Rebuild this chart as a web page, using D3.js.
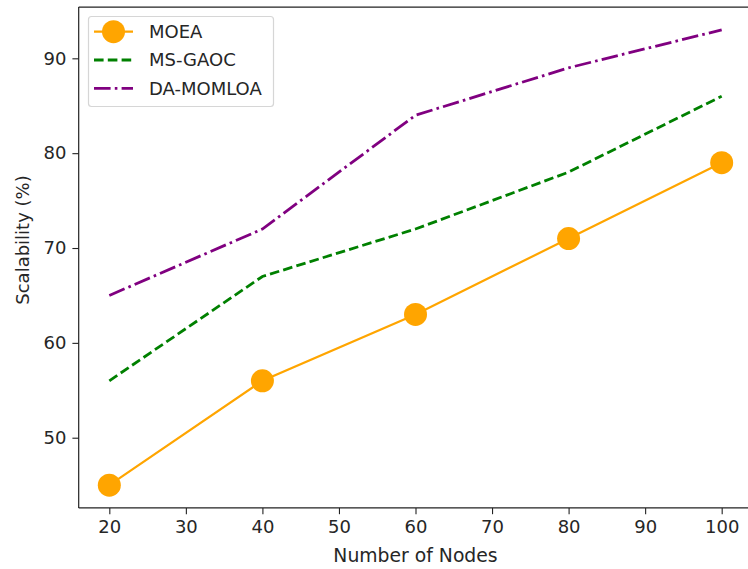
<!DOCTYPE html>
<html>
<head>
<meta charset="utf-8">
<script src="https://cdn.jsdelivr.net/npm/d3@7"></script>
<style>
  html, body { margin: 0; padding: 0; background: #fff; }
  svg { display: block; }
  text { font-family: "DejaVu Sans", sans-serif; fill: #262626; }
</style>
</head>
<body>
<svg id="chart" width="748" height="569"></svg>
<script>
const nodes = [20, 40, 60, 80, 100];
const moea = [45, 56, 63, 71, 79];
const msGaoc = [56, 67, 72, 78, 86];
const daMomloa = [65, 72, 84, 89, 93];
const xTicks = [20, 30, 40, 50, 60, 70, 80, 90, 100];
const yTicks = [50, 60, 70, 80, 90];
const seriesNames = ["MOEA", "MS-GAOC", "DA-MOMLOA"];

(function () {
const svg = d3.select("#chart");
const pLeft = 78.7, pRight = 752.3, pTop = 7.1, pBottom = 507.9;

const x = d3.scaleLinear().domain([16, 104]).range([pLeft, pRight]);
const y = d3.scaleLinear().domain([42.6, 95.4]).range([pBottom, pTop]);

const fs = 18;

const xAxis = d3.axisBottom(x).tickValues(xTicks).tickSize(6.3).tickPadding(6).tickSizeOuter(0);
const yAxis = d3.axisLeft(y).tickValues(yTicks).tickSize(6.3).tickPadding(6).tickSizeOuter(0);

const gx = svg.append("g").attr("transform", `translate(0,${pBottom})`).call(xAxis);
const gy = svg.append("g").attr("transform", `translate(${pLeft},0)`).call(yAxis);
[gx, gy].forEach(g => {
  g.select(".domain").remove();
  g.selectAll(".tick line").attr("stroke", "#222").attr("stroke-width", 1.1);
  g.selectAll(".tick text").attr("font-size", fs).attr("font-family", "DejaVu Sans").attr("fill", "#262626");
});

const spine = svg.append("g").attr("stroke", "#222").attr("stroke-width", 1.2).attr("fill", "none");
spine.append("line").attr("x1", pLeft).attr("x2", pLeft).attr("y1", pTop).attr("y2", pBottom);
spine.append("line").attr("x1", pLeft).attr("x2", 748).attr("y1", pTop).attr("y2", pTop);
spine.append("line").attr("x1", pLeft).attr("x2", 748).attr("y1", pBottom).attr("y2", pBottom);
spine.append("line").attr("x1", pRight).attr("x2", pRight).attr("y1", pTop).attr("y2", pBottom);

svg.append("text").attr("x", (x(20) + x(100)) / 2).attr("y", 562)
  .attr("text-anchor", "middle").attr("font-size", 18.8).text("Number of Nodes");
svg.append("text").attr("transform", "translate(29,240) rotate(-90)")
  .attr("text-anchor", "middle").attr("font-size", fs).text("Scalability (%)");

const line = d3.line().x(d => x(d[0])).y(d => y(d[1]));
const plot = svg.append("g");

const styles = [
  { color: "#FFA500", width: 2.2, dash: null, marker: true },
  { color: "#008000", width: 2.8, dash: "9.6,4.2", marker: false },
  { color: "#800080", width: 2.8, dash: "16.6,4.2,2.6,4.2", marker: false }
];
const data = [moea, msGaoc, daMomloa];

[2, 1, 0].forEach(i => {
  const pts = nodes.map((n, j) => [n, data[i][j]]);
  plot.append("path").datum(pts)
    .attr("d", line)
    .attr("fill", "none")
    .attr("stroke", styles[i].color)
    .attr("stroke-width", styles[i].width)
    .attr("stroke-dasharray", styles[i].dash);
  if (styles[i].marker) {
    plot.selectAll(null).data(pts).enter().append("circle")
      .attr("cx", d => x(d[0])).attr("cy", d => y(d[1]))
      .attr("r", 11.5).attr("fill", styles[i].color);
  }
});

const lg = svg.append("g");
lg.append("rect").attr("x", 88.5).attr("y", 16.5).attr("width", 185).attr("height", 90)
  .attr("rx", 3).attr("fill", "#fff").attr("fill-opacity", 0.8)
  .attr("stroke", "#d6d6d6").attr("stroke-width", 1.2);
const rowY = [31.7, 60, 88.3];
seriesNames.forEach((name, i) => {
  const yy = rowY[i];
  lg.append("line").attr("x1", 94).attr("x2", 133).attr("y1", yy).attr("y2", yy)
    .attr("stroke", styles[i].color).attr("stroke-width", styles[i].width)
    .attr("stroke-dasharray", styles[i].dash);
  if (styles[i].marker) {
    lg.append("circle").attr("cx", 113.5).attr("cy", yy).attr("r", 11.5).attr("fill", styles[i].color);
  }
  lg.append("text").attr("x", 149).attr("y", yy).attr("dy", "0.36em")
    .attr("font-size", fs).text(name);
});
})();
</script>
</body>
</html>
